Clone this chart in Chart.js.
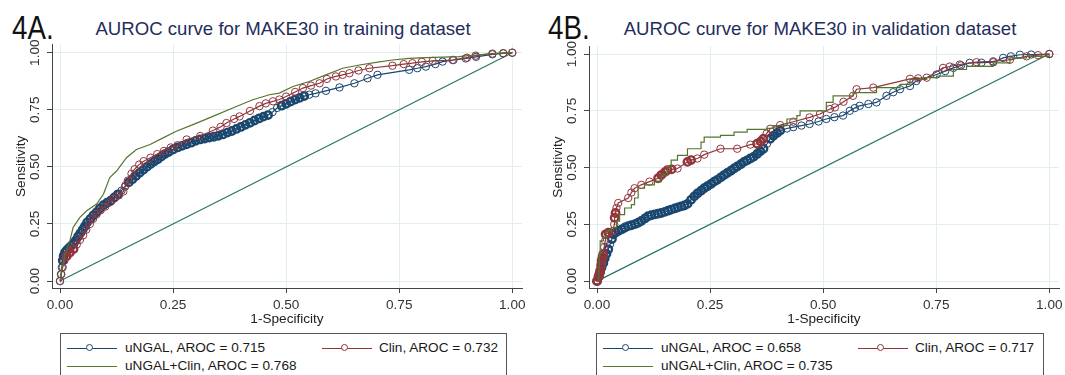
<!DOCTYPE html>
<html><head><meta charset="utf-8">
<script src="https://cdn.jsdelivr.net/npm/chart.js@4"></script>
<style>
html,body{margin:0;padding:0;background:#fff;width:1065px;height:375px;overflow:hidden;font-family:"Liberation Sans",Arial,sans-serif;}
.cv{position:absolute;top:40px;}
.big{position:absolute;font-size:33px;line-height:33px;color:#111;transform-origin:0 0;transform:scaleX(0.84);white-space:nowrap;}
.ttl{position:absolute;font-size:18.6px;line-height:19px;color:#1f2d5c;white-space:nowrap;transform:translateX(-50%);}
.leg{position:absolute;top:333px;height:52px;border:1px solid #555;box-sizing:border-box;background:#fff;}
.ln{position:absolute;width:50px;height:0;border-top:1.6px solid;}
.mk{position:absolute;width:5px;height:5px;border:1.3px solid;border-radius:50%;background:#fff;left:19px;top:-5px;}
.lt{position:absolute;font-size:13.6px;line-height:14px;color:#1a1a1a;white-space:nowrap;}
</style></head>
<body>
<div class="big" style="left:12px;top:11px;">4A.</div>
<div class="ttl" style="left:283px;top:19px;">AUROC curve for MAKE30 in training dataset</div>
<div class="big" style="left:548px;top:11px;">4B.</div>
<div class="ttl" style="left:820px;top:19px;">AUROC curve for MAKE30 in validation dataset</div>
<canvas id="cA" class="cv" width="530" height="290" style="left:0px;width:530px;height:290px;"></canvas>
<canvas id="cB" class="cv" width="530" height="290" style="left:537px;width:530px;height:290px;"></canvas>
<div id="legA" class="leg" style="left:60px;width:447px;"></div>
<div id="legB" class="leg" style="left:596px;width:448px;"></div>
<script>
// ---------- tick values / labels ----------
const tickValues = [0, 0.25, 0.5, 0.75, 1];
const tickLabels = ['0.00', '0.25', '0.50', '0.75', '1.00'];
const xTitle = '1-Specificity';
const yTitle = 'Sensitivity';

// ---------- series names ----------
const labelsA = ['uNGAL, AROC = 0.715', 'Clin, AROC = 0.732', 'uNGAL+Clin, AROC = 0.768'];
const labelsB = ['uNGAL, AROC = 0.658', 'Clin, AROC = 0.717', 'uNGAL+Clin, AROC = 0.735'];

// ---------- reference diagonal ----------
const refX = [0, 1];
const refY = [0, 1];

// ---------- 4A training: uNGAL ----------
const trainUngalX = [0,0.002,0.004,0.006,0.008,0.011,0.015,0.020,0.025,0.030,0.035,0.040,0.045,0.050,0.055,0.060,0.067,0.074,0.081,0.088,0.096,0.104,0.112,0.120,0.128,0.136,0.144,0.152,0.160,0.168,0.176,0.184,0.192,0.200,0.208,0.216,0.224,0.232,0.240,0.250,0.260,0.270,0.280,0.290,0.300,0.310,0.320,0.330,0.340,0.350,0.360,0.370,0.380,0.390,0.400,0.410,0.420,0.430,0.440,0.450,0.460,0.470,0.480,0.490,0.500,0.510,0.520,0.530,0.540,0.551,0.565,0.588,0.618,0.651,0.680,0.702,0.772,0.790,0.809,0.830,0.846,0.870,0.897,0.920,0.956,0.980,1];
const trainUngalY = [0,0.030,0.060,0.090,0.110,0.125,0.135,0.145,0.155,0.165,0.178,0.195,0.210,0.225,0.240,0.257,0.272,0.288,0.302,0.318,0.332,0.343,0.352,0.366,0.380,0.396,0.414,0.432,0.446,0.460,0.474,0.487,0.500,0.512,0.523,0.533,0.545,0.556,0.565,0.576,0.585,0.592,0.599,0.606,0.614,0.620,0.624,0.628,0.632,0.636,0.642,0.650,0.657,0.666,0.675,0.684,0.693,0.703,0.712,0.720,0.727,0.740,0.758,0.768,0.776,0.786,0.795,0.802,0.810,0.816,0.822,0.833,0.848,0.866,0.888,0.903,0.925,0.932,0.939,0.950,0.961,0.968,0.975,0.982,0.993,0.997,1];

// ---------- 4A training: Clin ----------
const trainClinX = [0,0.003,0.006,0.010,0.015,0.022,0.030,0.037,0.044,0.051,0.058,0.066,0.073,0.081,0.090,0.100,0.110,0.120,0.130,0.140,0.145,0.150,0.158,0.165,0.175,0.185,0.200,0.215,0.230,0.245,0.260,0.280,0.310,0.338,0.355,0.368,0.385,0.397,0.420,0.441,0.455,0.471,0.485,0.500,0.520,0.537,0.555,0.574,0.590,0.610,0.625,0.640,0.660,0.684,0.735,0.760,0.779,0.800,0.824,0.868,0.900,0.919,0.956,0.980,1];
const trainClinY = [0,0.030,0.060,0.090,0.110,0.125,0.140,0.160,0.180,0.200,0.225,0.250,0.272,0.293,0.310,0.326,0.345,0.362,0.375,0.392,0.420,0.440,0.470,0.490,0.510,0.525,0.540,0.556,0.570,0.585,0.595,0.620,0.635,0.659,0.675,0.692,0.710,0.721,0.745,0.766,0.778,0.787,0.795,0.808,0.828,0.845,0.856,0.866,0.885,0.896,0.903,0.910,0.922,0.932,0.943,0.950,0.954,0.960,0.964,0.968,0.978,0.987,0.996,0.998,1];

// ---------- 4A training: uNGAL+Clin ----------
const trainBothX = [0,0.005,0.011,0.022,0.029,0.044,0.059,0.081,0.096,0.110,0.125,0.147,0.169,0.199,0.228,0.257,0.294,0.338,0.382,0.426,0.463,0.485,0.515,0.551,0.588,0.625,0.662,0.699,0.735,0.772,0.809,0.846,0.882,0.919,0.956,1];
const trainBothY = [0,0.060,0.119,0.177,0.235,0.279,0.308,0.337,0.380,0.453,0.482,0.540,0.576,0.598,0.627,0.656,0.685,0.721,0.758,0.794,0.816,0.823,0.852,0.874,0.903,0.932,0.946,0.958,0.968,0.975,0.978,0.981,0.983,0.990,0.996,1];

// ---------- 4B validation: uNGAL ----------
const validUngalX = [0,0.004,0.007,0.010,0.014,0.017,0.021,0.025,0.029,0.033,0.036,0.041,0.047,0.055,0.062,0.069,0.076,0.084,0.091,0.098,0.106,0.113,0.120,0.128,0.135,0.142,0.150,0.157,0.164,0.172,0.179,0.186,0.193,0.200,0.208,0.215,0.222,0.230,0.237,0.244,0.252,0.259,0.266,0.274,0.281,0.288,0.296,0.303,0.310,0.318,0.325,0.332,0.339,0.346,0.354,0.361,0.368,0.376,0.383,0.390,0.398,0.405,0.420,0.434,0.452,0.470,0.490,0.507,0.525,0.544,0.559,0.570,0.581,0.600,0.618,0.640,0.655,0.670,0.692,0.706,0.751,0.770,0.788,0.805,0.824,0.850,0.876,0.898,0.915,0.935,0.960,1];
const validUngalY = [0,0.020,0.040,0.060,0.080,0.100,0.120,0.140,0.163,0.185,0.206,0.214,0.221,0.228,0.236,0.242,0.246,0.251,0.257,0.265,0.276,0.286,0.290,0.294,0.297,0.300,0.305,0.310,0.315,0.320,0.325,0.329,0.333,0.340,0.358,0.373,0.386,0.398,0.409,0.418,0.428,0.438,0.446,0.457,0.467,0.476,0.486,0.496,0.505,0.515,0.525,0.532,0.540,0.547,0.560,0.572,0.583,0.605,0.627,0.640,0.652,0.663,0.672,0.678,0.685,0.692,0.703,0.714,0.722,0.729,0.750,0.762,0.772,0.780,0.787,0.816,0.832,0.845,0.859,0.881,0.910,0.925,0.939,0.950,0.961,0.962,0.964,0.983,0.990,0.997,0.998,1];

// ---------- 4B validation: Clin ----------
const validClinX = [0,0.003,0.005,0.007,0.009,0.010,0.012,0.014,0.016,0.018,0.019,0.025,0.036,0.038,0.039,0.041,0.043,0.047,0.069,0.076,0.083,0.098,0.116,0.135,0.142,0.150,0.156,0.165,0.178,0.200,0.208,0.222,0.237,0.273,0.310,0.339,0.354,0.362,0.368,0.375,0.383,0.405,0.434,0.470,0.493,0.515,0.526,0.545,0.566,0.574,0.611,0.692,0.710,0.729,0.765,0.780,0.802,0.839,0.876,0.913,0.950,0.975,1];
const validClinY = [0,0.017,0.030,0.046,0.070,0.090,0.105,0.119,0.150,0.177,0.206,0.213,0.221,0.250,0.279,0.300,0.322,0.344,0.366,0.390,0.409,0.424,0.438,0.453,0.467,0.480,0.489,0.492,0.496,0.525,0.533,0.540,0.557,0.583,0.583,0.601,0.605,0.615,0.627,0.650,0.671,0.687,0.702,0.721,0.736,0.758,0.765,0.790,0.816,0.845,0.852,0.891,0.893,0.896,0.939,0.945,0.954,0.964,0.968,0.975,0.990,0.995,1];

// ---------- 4B validation: uNGAL+Clin ----------
const validBothX = [0,0.004,0.005,0.007,0.014,0.021,0.032,0.043,0.050,0.061,0.076,0.083,0.091,0.105,0.127,0.142,0.156,0.164,0.178,0.200,0.230,0.237,0.273,0.303,0.332,0.376,0.390,0.420,0.442,0.449,0.470,0.507,0.522,0.566,0.618,0.670,0.692,0.729,0.751,0.788,0.817,0.876,0.913,0.950,1];
const validBothY = [0,0.060,0.120,0.177,0.190,0.221,0.235,0.264,0.293,0.322,0.337,0.366,0.409,0.424,0.438,0.467,0.504,0.533,0.554,0.583,0.612,0.634,0.642,0.656,0.668,0.673,0.685,0.714,0.729,0.750,0.750,0.787,0.816,0.830,0.852,0.866,0.888,0.896,0.903,0.932,0.946,0.961,0.983,0.990,1];

// ---------- colours ----------
const cUngal = '#1a476f', cClin = '#90353b', cBoth = '#55752f', cRef = '#2a7468';
const FONT = '"Liberation Sans", Arial, sans-serif';

const pts = (xs, ys) => xs.map((x, i) => ({x, y: ys[i]}));

// overlapping hollow markers where points crowd together (drawn thicker, like the dense bands)
function crowdWidth(thin, thick) {
  return (c) => {
    const d = c.dataset.data, i = c.dataIndex;
    if (!d || !d[i]) return thin;
    const ca = c.chart.chartArea;
    const sx = ca ? (ca.right - ca.left) / 1.04 : 452, sy = ca ? (ca.bottom - ca.top) / 1.065 : 230;
    let m = Infinity;
    [i - 1, i + 1].forEach(j => {
      if (j >= 0 && j < d.length) {
        const dist = Math.hypot((d[j].x - d[i].x) * sx, (d[j].y - d[i].y) * sy);
        m = Math.min(m, dist);
      }
    });
    return m < 5 ? thick : thin;
  };
}

const yLabelPlugin = {
  id: 'yRotLabels',
  afterDraw(chart) {
    const s = chart.scales.y, ctx = chart.ctx;
    ctx.save();
    ctx.font = '13.6px ' + FONT;
    ctx.fillStyle = '#333';
    ctx.textAlign = 'center';
    ctx.textBaseline = 'middle';
    tickValues.forEach((v, i) => {
      const y = s.getPixelForValue(v);
      ctx.save();
      ctx.translate(s.right - 17, y);
      ctx.rotate(-Math.PI / 2);
      ctx.fillText(tickLabels[i], 0, 0);
      ctx.restore();
    });
    ctx.restore();
  }
};

function makeChart(id, uX, uY, cX, cY, bX, bY, labels) {
  const lineDs = (label, data, color, markers, stepped) => ({
    label, data, showLine: true, borderColor: color, borderWidth: 1.2,
    pointRadius: markers ? 3.7 : 0, pointBorderWidth: markers ? crowdWidth(1, 2.4) : 0, pointBorderColor: color,
    pointBackgroundColor: 'rgba(0,0,0,0)', pointHoverRadius: 0, fill: false, tension: 0,
    stepped: stepped || false
  });
  new Chart(document.getElementById(id), {
    type: 'scatter',
    data: {
      datasets: [
        lineDs(labels[2], pts(bX, bY), cBoth, false, id === 'cB' ? 'before' : false),
        lineDs(labels[1], pts(cX, cY), cClin, true),
        lineDs(labels[0], pts(uX, uY), cUngal, true),
        lineDs('Reference', pts(refX, refY), cRef, false)
      ]
    },
    options: {
      responsive: false, animation: false, devicePixelRatio: 1,
      layout: {padding: {left: 0, right: 8, top: 3, bottom: 0}},
      plugins: {legend: {display: false}, tooltip: {enabled: false}, title: {display: false}},
      scales: {
        x: {
          type: 'linear', min: -0.0177, max: 1.0215,
          afterBuildTicks: s => { s.ticks = tickValues.map(v => ({value: v})); },
          afterFit: s => { s.height = 42; s.paddingLeft = 0; s.paddingRight = 0; },
          ticks: {callback: (v, i) => tickLabels[i], font: {family: FONT, size: 13.6}, color: '#333', padding: 4, maxRotation: 0, autoSkip: false},
          grid: {color: '#e2edef', lineWidth: 1, drawTicks: true, tickLength: 5, tickColor: '#444'},
          border: {display: true, color: '#444', width: 1},
          title: {display: true, text: xTitle, font: {family: FONT, size: 13.6}, color: '#222', padding: {top: 0, bottom: 3}}
        },
        y: {
          type: 'linear', min: -0.0304, max: 1.035,
          afterBuildTicks: s => { s.ticks = tickValues.map(v => ({value: v})); },
          afterFit: s => { s.width = 52; s.paddingTop = 0; s.paddingBottom = 0; },
          ticks: {callback: (v, i) => tickLabels[i], font: {family: FONT, size: 13.6}, color: 'rgba(0,0,0,0)', padding: 3, autoSkip: false},
          grid: {color: '#e2edef', lineWidth: 1, drawTicks: true, tickLength: 5, tickColor: '#444'},
          border: {display: true, color: '#444', width: 1},
          title: {display: true, text: yTitle, font: {family: FONT, size: 13.6}, color: '#222', padding: {top: 13, bottom: 0}}
        }
      }
    },
    plugins: [yLabelPlugin]
  });
}

makeChart('cA', trainUngalX, trainUngalY, trainClinX, trainClinY, trainBothX, trainBothY, labelsA);
makeChart('cB', validUngalX, validUngalY, validClinX, validClinY, validBothX, validBothY, labelsB);

function buildLegend(id, labels) {
  const box = document.getElementById(id);
  const items = [
    {label: labels[0], color: cUngal, marker: true, lx: 6, tx: 64, y: 15},
    {label: labels[1], color: cClin, marker: true, lx: 261, tx: 318, y: 15},
    {label: labels[2], color: cBoth, marker: false, lx: 6, tx: 64, y: 33}
  ];
  items.forEach(it => {
    const ln = document.createElement('div');
    ln.className = 'ln';
    ln.style.left = it.lx + 'px'; ln.style.top = (it.y - 1) + 'px'; ln.style.borderColor = it.color;
    if (it.marker) {
      const mk = document.createElement('div');
      mk.className = 'mk'; mk.style.borderColor = it.color;
      ln.appendChild(mk);
    }
    box.appendChild(ln);
    const t = document.createElement('div');
    t.className = 'lt'; t.textContent = it.label;
    t.style.left = it.tx + 'px'; t.style.top = (it.y - 8) + 'px';
    box.appendChild(t);
  });
}
buildLegend('legA', labelsA);
buildLegend('legB', labelsB);
</script>
</body></html>
